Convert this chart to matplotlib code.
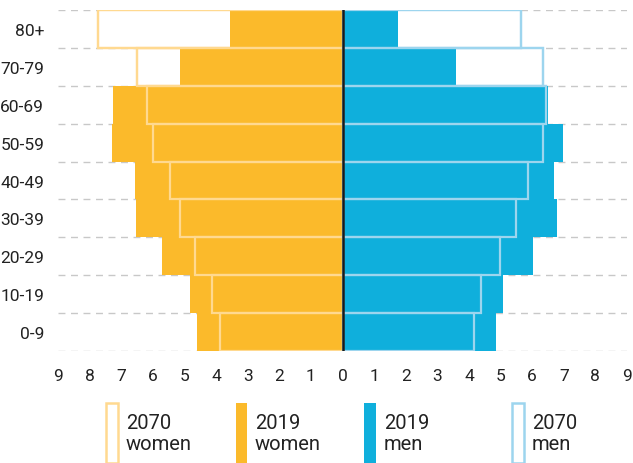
import matplotlib.pyplot as plt
from matplotlib.patches import Rectangle

plt.rcParams['font.family'] = ['Roboto', 'DejaVu Sans']

# Age groups, bottom to top
age_groups = ['0-9', '10-19', '20-29', '30-39', '40-49', '50-59', '60-69', '70-79', '80+']

# Share of population (%)
women_2019 = [4.59, 4.81, 5.70, 6.54, 6.57, 7.28, 7.26, 5.15, 3.57]
women_2070 = [3.88, 4.12, 4.67, 5.15, 5.46, 5.98, 6.20, 6.49, 7.75]
men_2019 = [4.87, 5.08, 6.04, 6.78, 6.70, 6.96, 6.50, 3.59, 1.75]
men_2070 = [4.17, 4.39, 4.99, 5.48, 5.86, 6.35, 6.45, 6.35, 5.64]

tick_values = list(range(-9, 10))

ORANGE = '#FBBA2B'
BLUE = '#0FAFDC'
LIGHT_ORANGE = '#FFD990'
LIGHT_BLUE = '#9DD5EE'
GRID = '#c8c8c8'

W, H = 633, 464
fig = plt.figure(figsize=(W / 100, H / 100), dpi=100)
ax = fig.add_axes([58 / W, 1 - 352 / H, (627 - 58) / W, (352 - 11) / H])

y = list(range(len(age_groups)))
neg_w19 = [-v for v in women_2019]
neg_w70 = [-v for v in women_2070]

# dashed row separators
for b in [i - 0.5 for i in range(len(age_groups) + 1)]:
    ax.axhline(b, color=GRID, linestyle=(0, (5, 4)), linewidth=1.0, zorder=0)

# 2070 white-filled boxes underneath
ax.barh(y, neg_w70, height=1, color='white', edgecolor=LIGHT_ORANGE, linewidth=1.6, zorder=1)
ax.barh(y, men_2070, height=1, color='white', edgecolor=LIGHT_BLUE, linewidth=1.6, zorder=1)

# 2019 solid bars
ax.barh(y, neg_w19, height=1, color=ORANGE, linewidth=0, zorder=2)
ax.barh(y, men_2019, height=1, color=BLUE, linewidth=0, zorder=2)

# 2070 outlines over everything
ax.barh(y, neg_w70, height=1, fill=False, edgecolor=LIGHT_ORANGE, linewidth=1.6, zorder=3)
ax.barh(y, men_2070, height=1, fill=False, edgecolor=LIGHT_BLUE, linewidth=1.6, zorder=3)

ax.axvline(0, color='#1a1a1a', linewidth=1.8, zorder=4)

ax.set_xlim(-9, 9)
ax.set_ylim(-0.5, len(age_groups) - 0.5)
ax.set_xticks(tick_values)
ax.set_xticklabels([str(abs(v)) for v in tick_values], fontsize=12.5, color='#222222')
ax.set_yticks(y)
ax.set_yticklabels(age_groups, fontsize=12.5, color='#222222')
ax.tick_params(axis='both', length=0)
ax.tick_params(axis='x', pad=12)
ax.tick_params(axis='y', pad=10)
for s in ax.spines.values():
    s.set_visible(False)

# legend drawn by hand
legend_items = [
    (106, 12, 'white', LIGHT_ORANGE, '2070\nwomen'),
    (236, 11, ORANGE, None, '2019\nwomen'),
    (364, 12, BLUE, None, '2019\nmen'),
    (512, 12, 'white', LIGHT_BLUE, '2070\nmen'),
]
for x0, w, fc, ec, label in legend_items:
    rect = Rectangle((x0 / W, 0), w / W, (H - 404) / H, transform=fig.transFigure,
                     facecolor=fc, edgecolor=ec if ec else fc, linewidth=1.8 if ec else 0)
    fig.add_artist(rect)
    fig.text((x0 + w + 8) / W, 1 - 434 / H, label, fontsize=14.5, color='#222222',
             va='center', ha='left', linespacing=1.1)

fig.savefig('out.png', dpi=100)
